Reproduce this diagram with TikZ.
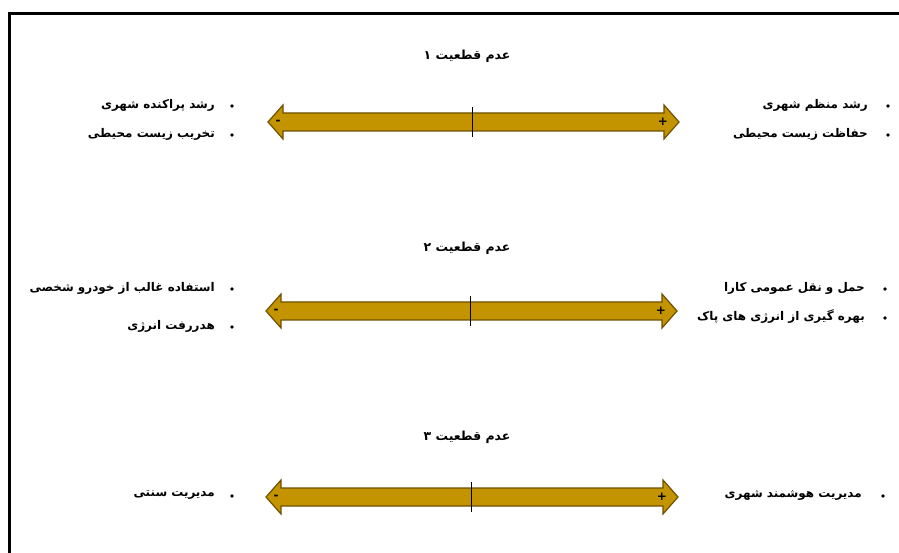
\documentclass[tikz,border=0pt]{standalone}
\usepackage{fontspec}
\newfontfamily\fa[Script=Arabic]{DejaVu Sans}
\TeXXeTstate=1
\usetikzlibrary{calc}
\definecolor{arrfill}{HTML}{C39400}
\definecolor{arredge}{HTML}{6E5000}
\tikzset{
  lbl/.style={font=\fa\bfseries\fontsize{12}{14}\selectfont, inner sep=0pt, anchor=east},
  ttl/.style={font=\fa\bfseries\fontsize{12.5}{14}\selectfont, inner sep=0pt},
  bul/.style={circle, fill=black, inner sep=0pt, minimum size=3.6bp},
  sign/.style={font=\fa\bfseries\fontsize{12}{12}\selectfont, inner sep=0pt},
}
\newcommand{\dblarrow}[4]{% left x, right x, y, name
  \coordinate (#4l) at (#1,#3);
  \coordinate (#4r) at (#2,#3);
  \fill[arrfill, draw=arredge, line width=1.2pt, line join=miter]
    (#4l) -- ++(15,-17) -- ++(0,8) -- ($(#4r)+(-15,-9)$) -- ++(0,-8) -- (#4r)
    -- ++(-15,17) -- ++(0,-8) -- ($(#4l)+(15,9)$) -- ++(0,8) -- cycle;
  \node[sign] (#4m) at ($(#4l)+(10,0)$) {-};
  \node[sign] (#4p) at ($(#4r)+(-16,0)$) {+};
}
\begin{document}
\begin{tikzpicture}[x=1bp,y=-1bp]
\useasboundingbox (0,0) rectangle (899,553);
\fill[white] (0,0) rectangle (899,553);
\draw[line width=3bp] (899,13.5) -- (9.5,13.5) -- (9.5,553);

% section 1
\node[ttl] (t1) at (467,56) {\beginR عدم قطعیت ۱\endR};
\dblarrow{268}{679}{122}{a}
\draw[line width=1bp] (472,107) -- (472,137);
\node[bul] (b11) at (232,106) {};
\node[bul] (b12) at (232,135) {};
\node[lbl] (l11) at (215,105) {\beginR رشد پراکنده شهری\endR};
\node[lbl] (l12) at (215,134) {\beginR تخریب زیست محیطی\endR};
\node[bul] (b13) at (888,106) {};
\node[bul] (b14) at (888,135) {};
\node[lbl] (r11) at (868,105) {\beginR رشد منظم شهری\endR};
\node[lbl] (r12) at (868,134) {\beginR حفاظت زیست محیطی\endR};

% section 2
\node[ttl] (t2) at (467,248) {\beginR عدم قطعیت ۲\endR};
\dblarrow{266}{677}{311}{b}
\draw[line width=1bp] (470,296) -- (470,326);
\node[bul] (b21) at (232,289) {};
\node[bul] (b22) at (232,327) {};
\node[lbl] (l21) at (215,288) {\beginR استفاده غالب از خودرو شخصی\endR};
\node[lbl] (l22) at (215,326) {\beginR هدررفت انرژی\endR};
\node[bul] (b23) at (885,289) {};
\node[bul] (b24) at (885,318) {};
\node[lbl] (r21) at (865,288) {\beginR حمل و نقل عمومی کارا\endR};
\node[lbl] (r22) at (865,317) {\beginR بهره گیری از انرژی های پاک\endR};

% section 3
\node[ttl] (t3) at (467,437) {\beginR عدم قطعیت ۳\endR};
\dblarrow{266}{678}{497}{c}
\draw[line width=1bp] (471,482) -- (471,512);
\node[bul] (b31) at (232,496) {};
\node[lbl] (l31) at (215,495) {\beginR مدیریت سنتی\endR};
\node[bul] (b32) at (883,496) {};
\node[lbl] (r31) at (862,495) {\beginR مدیریت هوشمند شهری\endR};
\end{tikzpicture}
\end{document}
